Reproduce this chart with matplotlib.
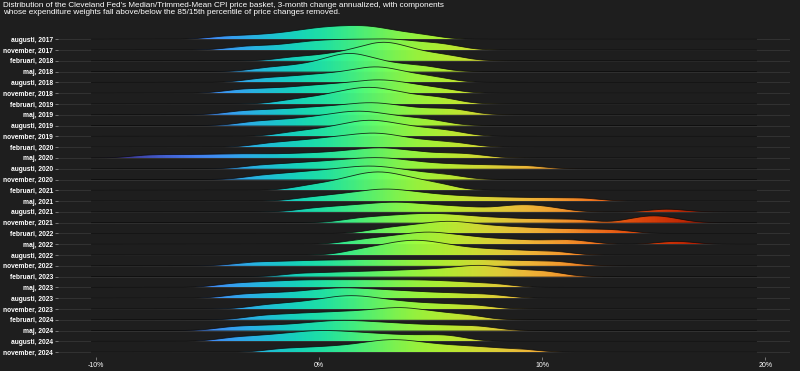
import numpy as np
import matplotlib
matplotlib.use("Agg")
import matplotlib.pyplot as plt
from matplotlib.colors import Normalize

plt.rcParams['font.family'] = ['Liberation Sans', 'DejaVu Sans']

# ---------------- data (component price changes, % annualized) ----------------
row_labels = ["augusti, 2017", "november, 2017", "februari, 2018", "maj, 2018",
              "augusti, 2018", "november, 2018", "februari, 2019", "maj, 2019",
              "augusti, 2019", "november, 2019", "februari, 2020", "maj, 2020",
              "augusti, 2020", "november, 2020", "februari, 2021", "maj, 2021",
              "augusti, 2021", "november, 2021", "februari, 2022", "maj, 2022",
              "augusti, 2022", "november, 2022", "februari, 2023", "maj, 2023",
              "augusti, 2023", "november, 2023", "februari, 2024", "maj, 2024",
              "augusti, 2024", "november, 2024"]

aug_2017 = [-4.2, -2.8, -1.8, -1.0, -0.5, 0.0, 0.4, 0.8, 1.2, 1.6, 2.0, 2.3, 2.7, 3.2, 3.9, 4.8]
nov_2017 = [-3.5, -2.3, -1.2, -0.6, 0.0, 0.5, 1.0, 1.5, 2.0, 2.5, 3.0, 3.4, 3.9, 4.5, 5.2, 5.9]
feb_2018 = [-1.2, 0.0, 0.8, 1.4, 1.9, 2.3, 2.6, 2.8, 3.0, 3.3, 3.6, 4.0, 4.5, 5.2, 6.0]
maj_2018 = [-2.4, -1.3, -0.5, 0.1, 0.6, 0.9, 1.2, 1.4, 1.6, 1.9, 2.3, 2.8, 3.4, 4.2, 5.0]
aug_2018 = [-2.7, -1.6, -0.7, 0.0, 0.6, 1.2, 1.7, 2.1, 2.4, 2.7, 3.0, 3.4, 3.9, 4.6, 5.4]
nov_2018 = [-3.6, -2.4, -1.3, -0.5, 0.2, 0.8, 1.4, 1.9, 2.3, 2.7, 3.1, 3.5, 4.0, 4.7, 5.6]
feb_2019 = [-1.3, -0.3, 0.4, 0.9, 1.3, 1.7, 2.0, 2.3, 2.6, 2.9, 3.3, 3.8, 4.4, 5.1, 5.8]
maj_2019 = [-3.6, -2.5, -1.5, -0.7, 0.0, 0.6, 1.2, 1.7, 2.1, 2.5, 2.9, 3.4, 4.0, 4.8, 5.7, 6.3]
aug_2019 = [-3.0, -1.9, -1.0, -0.3, 0.3, 0.8, 1.2, 1.6, 1.9, 2.3, 2.7, 3.2, 3.8, 4.5, 5.3]
nov_2019 = [-1.3, -0.3, 0.4, 1.0, 1.4, 1.8, 2.1, 2.4, 2.7, 3.1, 3.5, 4.0, 4.6, 5.3, 6.1]
feb_2020 = [-2.3, -1.2, -0.4, 0.3, 0.8, 1.3, 1.8, 2.2, 2.5, 2.9, 3.3, 3.8, 4.5, 5.3, 6.3]
maj_2020 = [-7.7, -6.3, -4.9, -3.7, -2.6, -1.4, -0.4, 0.5, 1.2, 1.8, 2.3, 2.7, 3.1, 3.6, 4.2, 5.0, 6.0, 6.9]
aug_2020 = [-2.7, -1.5, -0.6, 0.2, 0.8, 1.4, 1.9, 2.4, 2.8, 3.3, 3.8, 4.5, 5.4, 6.5, 7.8, 9.3]
nov_2020 = [-2.7, -1.6, -0.8, -0.1, 0.5, 1.0, 1.5, 1.9, 2.3, 2.7, 3.1, 3.6, 4.2, 5.0, 5.9]
feb_2021 = [-0.6, 0.4, 1.0, 1.5, 1.9, 2.2, 2.5, 2.8, 3.1, 3.4, 3.8, 4.3, 4.9, 5.6]
maj_2021 = [-0.5, 0.6, 1.3, 1.9, 2.4, 2.8, 3.2, 3.6, 4.1, 4.7, 5.4, 6.3, 7.4, 8.7, 10.2, 11.8]
aug_2021 = [-0.3, 0.8, 1.6, 2.3, 2.9, 3.4, 3.9, 4.5, 5.2, 6.0, 7.0, 8.3, 9.0, 9.6, 10.5, 15.6]
nov_2021 = [1.6, 2.6, 3.4, 4.1, 4.7, 5.3, 5.9, 6.6, 7.5, 8.6, 10.0, 11.5, 14.3, 15.0, 15.7]
feb_2022 = [2.7, 3.6, 4.3, 4.9, 5.4, 5.8, 6.2, 6.7, 7.3, 8.0, 8.8, 9.7, 10.8, 12.0, 13.3]
maj_2022 = [1.7, 2.7, 3.4, 4.0, 4.5, 4.9, 5.3, 5.8, 6.4, 7.1, 8.0, 9.1, 10.5, 11.6, 16.0]
aug_2022 = [1.7, 2.6, 3.2, 3.7, 4.1, 4.5, 4.9, 5.4, 6.0, 6.8, 7.8, 9.0, 10.5]
nov_2022 = [-3.2, -2.0, -0.9, 0.0, 0.9, 1.7, 2.5, 3.3, 4.1, 4.9, 5.7, 6.5, 7.3, 8.1, 9.0, 10.0, 11.0]
feb_2023 = [-0.9, 0.5, 1.6, 2.6, 3.5, 4.3, 5.0, 5.7, 6.3, 6.8, 7.2, 7.6, 8.1, 8.8, 9.7, 10.4]
maj_2023 = [-4.0, -2.9, -2.0, -1.2, -0.5, 0.2, 0.9, 1.6, 2.3, 3.0, 3.7, 4.4, 5.1, 5.9, 6.8, 8.0]
aug_2023 = [-3.6, -2.5, -1.5, -0.7, 0.0, 0.5, 1.0, 1.5, 2.0, 2.6, 3.2, 3.9, 4.7, 5.6, 6.6, 7.8]
nov_2023 = [-2.5, -1.4, -0.6, 0.1, 0.6, 1.0, 1.4, 1.8, 2.2, 2.7, 3.3, 4.0, 4.9, 5.9, 7.1]
feb_2024 = [-2.7, -1.6, -0.7, 0.1, 0.8, 1.5, 2.1, 2.7, 3.2, 3.6, 4.0, 4.5, 5.1, 5.9, 6.8]
maj_2024 = [-4.0, -2.9, -1.9, -1.0, -0.3, 0.3, 0.8, 1.3, 1.8, 2.4, 3.0, 3.7, 4.5, 5.4, 6.4, 7.4]
aug_2024 = [-3.9, -2.8, -1.9, -1.2, -0.6, -0.1, 0.4, 0.9, 1.5, 2.1, 2.8, 3.6, 4.5, 5.4, 6.1]
nov_2024 = [-1.7, -0.5, 0.5, 1.3, 2.0, 2.5, 2.9, 3.3, 3.7, 4.1, 4.6, 5.2, 5.9, 6.7, 7.6, 9.0]

row_samples = [aug_2017, nov_2017, feb_2018, maj_2018, aug_2018, nov_2018,
               feb_2019, maj_2019, aug_2019, nov_2019, feb_2020, maj_2020,
               aug_2020, nov_2020, feb_2021, maj_2021, aug_2021, nov_2021,
               feb_2022, maj_2022, aug_2022, nov_2022, feb_2023, maj_2023,
               aug_2023, nov_2023, feb_2024, maj_2024, aug_2024, nov_2024]

x_ticks = [-10, 0, 10, 20]
x_tick_labels = ["-10%", "0%", "10%", "20%"]

title = ("Distribution of the Cleveland Fed's Median/Trimmed-Mean CPI price basket, "
         "3-month change annualized, with components\n"
         "whose expenditure weights fall above/below the 85/15th percentile of price changes removed.")

# ---------------- figure ----------------
BG = "#1e1e1e"
fig = plt.figure(figsize=(8.0, 3.71), dpi=100, facecolor=BG)
ax = fig.add_axes([0.0725, 0.0377, 0.915, 0.903], facecolor=BG)

n = len(row_samples)
xgrid = np.linspace(-10.2, 19.6, 900)
bw = 0.8
dens = []
for s in row_samples:
    s = np.asarray(s)[:, None]
    d = np.exp(-0.5 * ((xgrid[None, :] - s) / bw) ** 2).sum(axis=0)
    d /= (len(s) * bw * np.sqrt(2 * np.pi))
    dens.append(d)
scale = 1.72 / max(d.max() for d in dens)

cmap = plt.get_cmap("turbo")
norm = Normalize(vmin=-10.4, vmax=19.6)
grad = norm(np.linspace(xgrid[0], xgrid[-1], 600))[None, :]

# grid lines
for i in range(n):
    ax.axhline(n - 1 - i, color="#353535", lw=0.6, zorder=0.5)

for i, d in enumerate(dens):
    base = n - 1 - i
    h = d * scale
    z = 2 + i * 0.05
    poly = ax.fill_between(xgrid, base, base + h, facecolor="none", edgecolor="none", zorder=z)
    im = ax.imshow(grad, cmap=cmap, vmin=0, vmax=1, aspect="auto",
                   extent=[xgrid[0], xgrid[-1], base, base + h.max()],
                   interpolation="bilinear", zorder=z, alpha=0.95)
    im.set_clip_path(poly.get_paths()[0], transform=ax.transData)
    ax.plot(xgrid, base + h, color="#0a0a0a", lw=0.6, alpha=0.85, zorder=z + 0.01)

ax.set_xlim(-11.7, 21.1)
ax.set_ylim(-0.45, n - 1 + 1.6)
ax.set_yticks([n - 1 - i for i in range(n)])
ax.set_yticklabels(row_labels, fontsize=4.8, fontweight="bold", color="white")
ax.set_xticks(x_ticks)
ax.set_xticklabels(x_tick_labels, fontsize=5.0, color="white")
ax.tick_params(axis="both", length=2, width=0.5, color="#9a9a9a", pad=1.5)
for sp in ax.spines.values():
    sp.set_visible(False)

fig.text(0.004, 0.995, title, ha="left", va="top", fontsize=5.9, color="white", linespacing=1.05)

fig.savefig("out.png", dpi=100, facecolor=BG)
